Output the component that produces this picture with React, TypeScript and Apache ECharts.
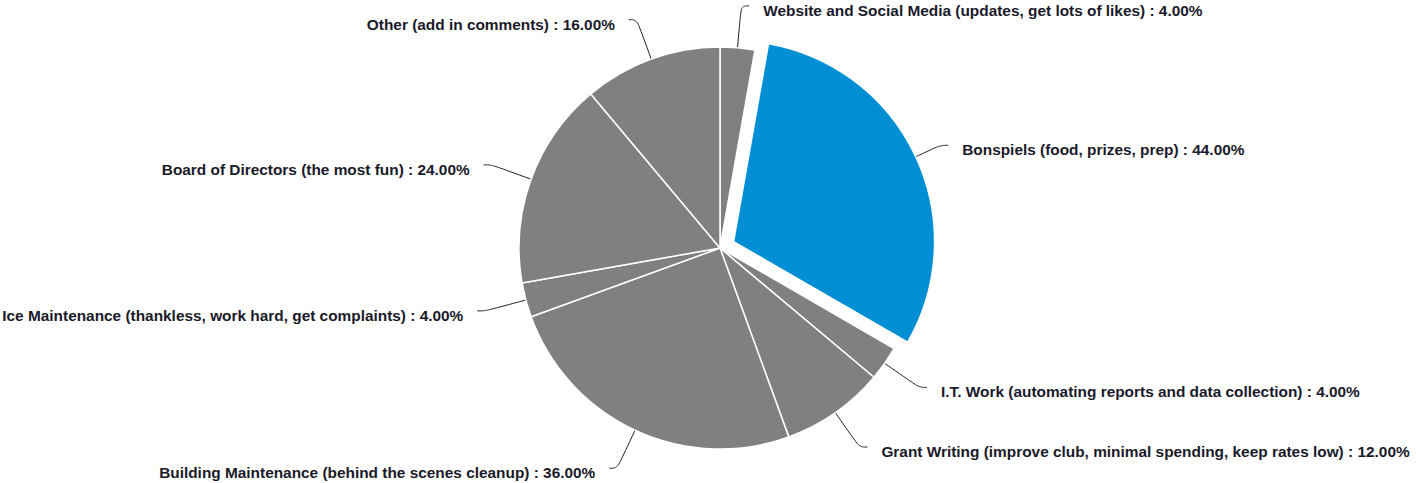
import React, { useEffect, useRef } from "react";
import * as echarts from "echarts";

const categories = [
  "Website and Social Media (updates, get lots of likes)",
  "Bonspiels (food, prizes, prep)",
  "I.T. Work (automating reports and data collection)",
  "Grant Writing (improve club, minimal spending, keep rates low)",
  "Building Maintenance (behind the scenes cleanup)",
  "Ice Maintenance (thankless, work hard, get complaints)",
  "Board of Directors (the most fun)",
  "Other (add in comments)",
];
const values = [4, 44, 4, 12, 36, 4, 24, 16];
const highlighted = "Bonspiels (food, prizes, prep)";

const GRAY = "#808080";
const BLUE = "#008fd5";

export default function App() {
  const ref = useRef<HTMLDivElement>(null);
  useEffect(() => {
    document.body.style.margin = "0";
    const chart = echarts.init(ref.current!, undefined, { renderer: "svg" });
    const common = {
      type: "pie",
      center: [720, 248],
      radius: [0, 201],
      startAngle: 90,
      clockwise: true,
      emphasis: { disabled: true },
    };
    const font = {
      color: "#1a1a2a",
      fontFamily: "Liberation Sans, Arial, sans-serif",
      fontWeight: "bold",
      fontSize: 15.4,
    };
    chart.setOption({
      animation: false,
      series: [
        {
          ...common,
          avoidLabelOverlap: false,
          label: {
            show: true,
            ...font,
            overflow: "none",
            distanceToLabelLine: 14,
            formatter: (p: any) => `{s| }\n{t|${p.name} : ${Number(p.value).toFixed(2)}%}`,
            rich: {
              s: { lineHeight: 9, fontSize: 1 },
              t: { ...font, lineHeight: 18 },
            },
          },
          labelLine: {
            show: true,
            length: 42,
            length2: 8,
            smooth: 0.4,
            lineStyle: { color: "#222222", width: 1 },
          },
          data: categories.map((c, i) => ({
            name: c,
            value: values[i],
            itemStyle:
              c === highlighted
                ? { color: "rgba(0,0,0,0)", borderWidth: 0 }
                : { color: GRAY, borderColor: "#ffffff", borderWidth: 1.5 },
          })),
        },
        {
          ...common,
          selectedMode: "single",
          selectedOffset: 15,
          label: { show: false },
          labelLine: { show: false },
          silent: true,
          data: categories.map((c, i) => ({
            name: c,
            value: values[i],
            selected: c === highlighted,
            itemStyle:
              c === highlighted
                ? { color: BLUE, borderColor: "#ffffff", borderWidth: 1.5 }
                : { color: "rgba(0,0,0,0)", borderWidth: 0 },
          })),
        },
      ],
    });
    return () => chart.dispose();
  }, []);
  return <div ref={ref} style={{ width: 1416, height: 483 }} />;
}
